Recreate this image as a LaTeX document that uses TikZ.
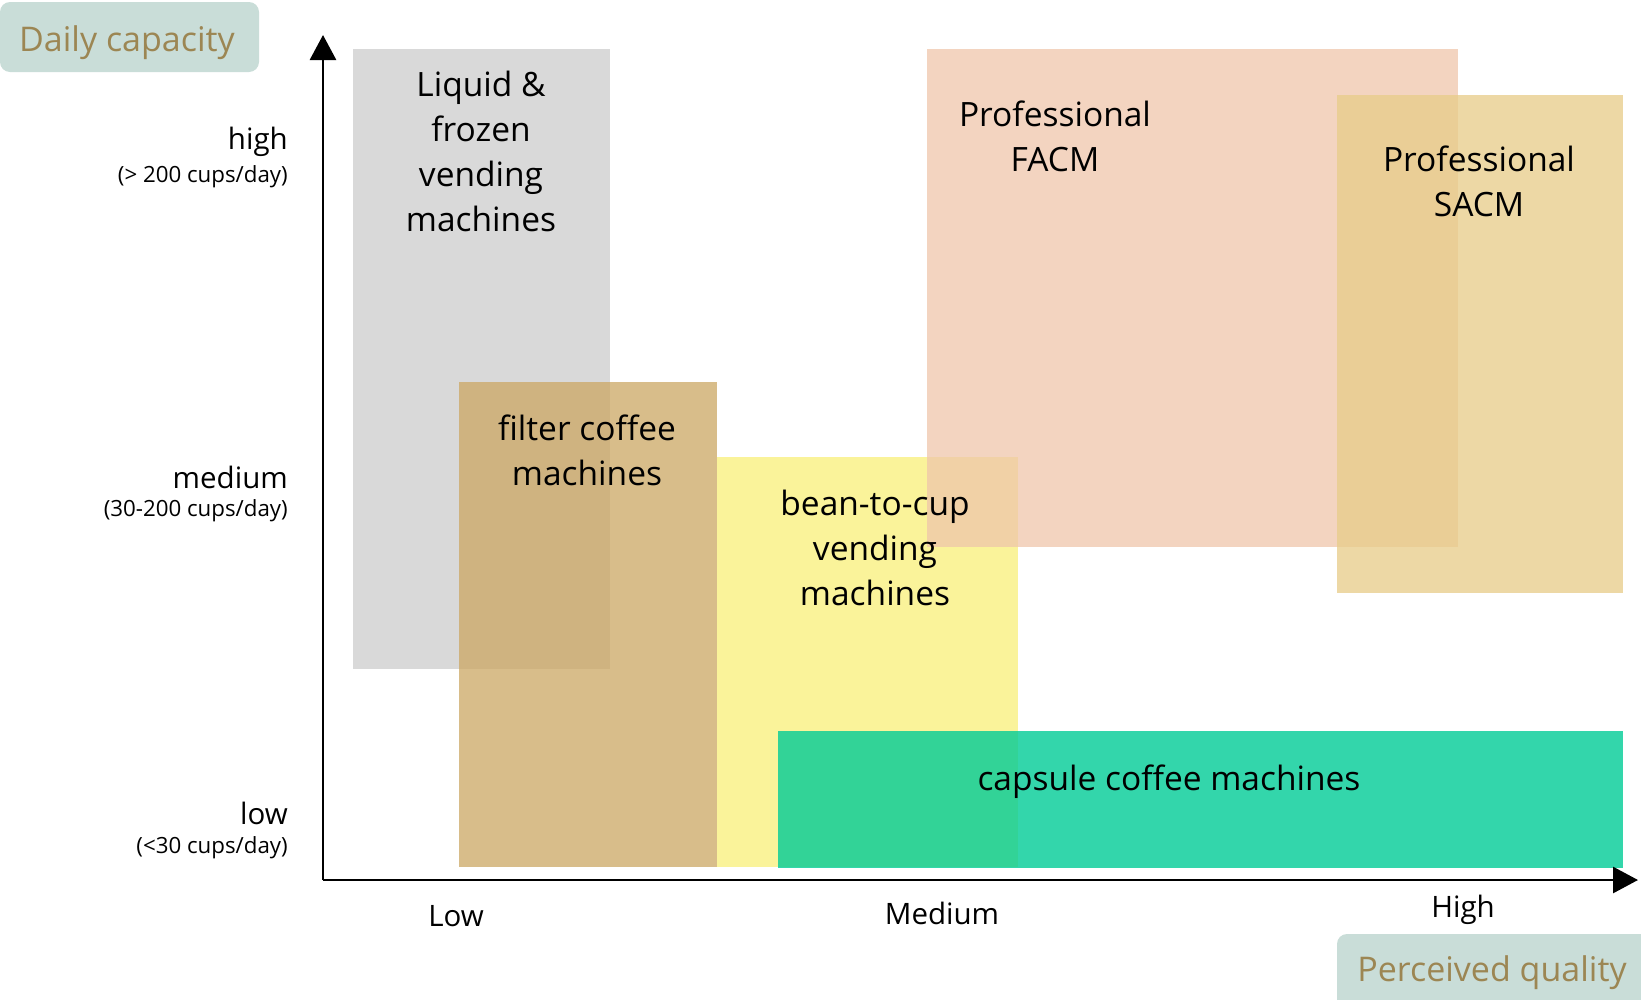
\documentclass[tikz,border=0pt]{standalone}
\usepackage{fontspec}
\setmainfont{Open Sans}
\usetikzlibrary{arrows.meta}
\definecolor{grayb}{RGB}{217,217,217}
\definecolor{tanb}{RGB}{204,167,99}
\definecolor{yelb}{RGB}{250,243,154}
\definecolor{pinkb}{RGB}{239,198,171}
\definecolor{sacb}{RGB}{231,204,136}
\definecolor{tealb}{RGB}{0,204,151}
\definecolor{tagbg}{RGB}{201,221,216}
\definecolor{tagfg}{RGB}{156,134,83}
\tikzset{
  boxlabel/.style={align=center, font=\fontsize{33.5}{45}\selectfont, text=black, inner sep=0pt},
  levellabel/.style={anchor=east, font=\fontsize{29.5}{30}\selectfont, inner sep=0pt},
  levelsub/.style={anchor=east, font=\fontsize{22.3}{24}\selectfont, inner sep=0pt},
  xlabel/.style={font=\fontsize{29.5}{30}\selectfont, inner sep=0pt},
  tag/.style={font=\fontsize{34}{36}\selectfont, text=tagfg, inner sep=0pt},
  axis/.style={line width=2.8pt, -{Triangle[length=25pt,width=26pt]}}
}
\begin{document}
\begin{tikzpicture}[x=1pt,y=-1pt]
\useasboundingbox (0,0) rectangle (1641,999);
\fill[white] (0,0) rectangle (1641,999);
% tags
\fill[tagbg, rounded corners=10pt] (0,2) rectangle (259,72);
\node[tag] (ycap) at (127,43) {Daily capacity};
\fill[tagbg, rounded corners=10pt] (1337,934) rectangle (1660,1020);
\node[tag] (xcap) at (1492,973) {Perceived quality};
% category areas
\fill[grayb] (353,49) rectangle (610,669);
\fill[tanb, fill opacity=0.75] (459,382) rectangle (717,867);
\fill[yelb] (717,457) rectangle (1018,867);
\fill[pinkb, fill opacity=0.75] (927,49) rectangle (1458,547);
\fill[sacb, fill opacity=0.75] (1337,95) rectangle (1623,593);
\fill[tealb, fill opacity=0.8] (778,731) rectangle (1623,868);
% axes
\coordinate (o) at (323,880);
\coordinate (ytip) at (323,35);
\coordinate (xtip) at (1638,880);
\draw[axis] (o) -- (ytip);
\draw[axis] (o) -- (xtip);
% labels in areas
\node[boxlabel] (liq) at (481,151) {Liquid \&\\frozen\\vending\\machines};
\node[boxlabel] (fil) at (587,450) {filter coffee\\machines};
\node[boxlabel] (btc) at (875,548) {bean-to-cup\\vending\\machines};
\node[boxlabel] (facm) at (1055,136) {Professional\\FACM};
\node[boxlabel] (sacm) at (1479,181) {Professional\\SACM};
\node[boxlabel] (cap) at (1169,782) {capsule coffee machines};
% y levels
\node[levellabel] (hi) at (288,142) {high};
\node[levelsub] (hisub) at (288,177) {(> 200 cups/day)};
\node[levellabel] (me) at (288,477) {medium};
\node[levelsub] (mesub) at (288,511) {(30-200 cups/day)};
\node[levellabel] (lo) at (288,813) {low};
\node[levelsub] (losub) at (288,848) {(<30 cups/day)};
% x levels
\node[xlabel] (xl) at (456,916) {Low};
\node[xlabel] (xm) at (942,913) {Medium};
\node[xlabel] (xh) at (1463,910) {High};
\end{tikzpicture}
\end{document}
